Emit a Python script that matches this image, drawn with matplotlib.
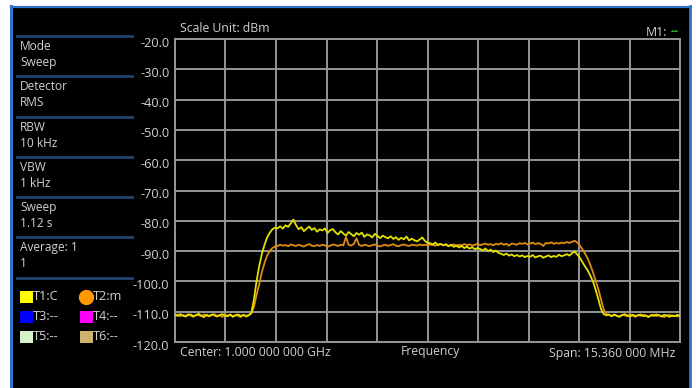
import numpy as np
import matplotlib
matplotlib.use('Agg')
from matplotlib import pyplot as plt
from matplotlib.patches import Rectangle
from matplotlib.lines import Line2D
from matplotlib.transforms import ScaledTranslation

plt.rcParams['font.family'] = ['Open Sans', 'DejaVu Sans']

# sweep settings (MHz offset from centre)
center_ghz = 1.0
span_mhz = 15.36
ref_levels = list(range(-120, -19, 10))
ref_labels = [f'{v:.1f}' for v in ref_levels]

# trace 1 (clear/write, yellow), dBm
t1_trace = [
    -111.0, -111.4, -110.8, -111.3, -111.6, -111.1, -110.9, -111.5, -111.2, -110.7,
    -111.3, -111.8, -111.0, -111.4, -110.9, -111.2, -111.6, -111.1, -110.8, -111.3,
    -111.5, -111.0, -111.7, -111.2, -110.9, -111.4, -111.1, -111.6, -111.2,
    -110.5, -106.0, -100.0, -95.0, -91.0, -88.0, -85.5, -84.0, -82.8, -82.3,
    -82.5, -81.8, -82.6, -81.5, -82.0, -80.9, -79.6, -81.4,
    -82.8, -82.1, -83.4, -82.6, -81.9, -83.0, -82.4, -83.6, -82.8, -83.2, -82.5, -84.0, -83.1, -82.7,
    -83.8, -84.5, -83.4, -84.2, -84.9, -83.7, -84.4, -85.1, -84.0, -84.6,
    -83.9, -85.3, -84.5, -84.8, -85.5, -84.3, -85.0, -85.7, -84.9, -85.4,
    -85.8, -85.1, -86.0, -85.4, -86.3, -85.6, -86.1, -85.2, -86.5, -85.9,
    -86.4, -86.8, -86.2, -85.5, -86.6, -87.3,
    -87.4, -87.8, -87.2, -88.0, -87.6, -88.1, -87.7, -88.4, -87.9, -88.6,
    -88.2, -88.8, -88.3, -89.0, -88.5, -89.2, -88.7, -89.4, -89.0,
    -89.3, -89.8, -89.1, -90.0, -89.5, -90.3, -89.8, -90.6, -90.9, -91.3,
    -90.8, -91.5, -91.1, -91.7, -91.3,
    -91.8, -91.4, -92.0, -91.6, -91.9, -91.3, -92.1, -91.7, -91.5, -92.2,
    -91.8, -91.4, -92.0, -91.6, -91.9, -91.2, -91.7, -91.4, -91.0, -91.5,
    -90.6, -90.2, -91.2, -92.3, -93.8, -95.2, -96.5, -98.3, -100.2, -103.0,
    -106.0, -109.2, -110.8,
    -111.2, -110.9, -111.5, -111.0, -111.4, -111.7, -111.1, -110.8, -111.3, -111.6,
    -111.0, -111.4, -111.2, -110.9, -111.5, -111.3, -111.8, -111.1, -111.4, -110.9,
    -111.2, -111.6, -111.0, -111.3, -111.7, -111.2, -111.5, -111.0, -111.4,
]

# trace 2 (max hold, orange), dBm
t2_trace = [
    -111.2, -110.9, -111.5, -111.1, -111.4, -110.8, -111.3, -111.7, -111.0, -111.2,
    -111.5, -110.9, -111.3, -111.6, -111.1, -110.8, -111.4, -111.2, -111.7, -111.0,
    -111.3, -110.9, -111.5, -111.1, -111.4, -111.8, -111.0, -111.3, -111.1, -110.6,
    -108.5, -104.5, -101.0, -97.0, -94.0, -91.5, -90.0, -89.0, -88.5,
    -88.3, -87.9, -88.2, -88.0, -88.4, -87.8, -88.1, -88.3, -87.9, -88.2,
    -88.5, -88.0, -87.7, -88.2, -88.4, -88.0, -88.3, -87.9, -88.1, -88.6,
    -88.2, -87.8, -88.0, -88.3, -87.9, -88.1,
    -85.4, -87.9, -88.2, -87.6, -85.8, -88.0,
    -88.3, -87.9, -88.1, -88.4, -88.0, -87.8, -88.2, -88.5, -88.1, -87.9,
    -88.3, -88.0, -87.7, -88.2, -88.4, -88.0, -87.8, -88.1, -88.3, -87.9,
    -88.0, -88.2, -87.8, -88.1, -87.9,
    -88.1, -87.8, -88.0, -88.2, -87.9, -87.7, -88.1, -87.9, -88.3, -88.0,
    -87.8, -88.2, -87.9, -88.1, -87.7, -88.0, -87.8, -88.2, -87.9, -87.6,
    -88.0, -87.8, -87.5, -87.9, -87.7, -88.1, -87.6, -87.8, -87.4, -87.9,
    -87.6, -88.2, -87.5, -87.7, -87.9,
    -87.4, -87.6, -87.3, -87.8, -87.5, -87.2, -87.7, -87.4, -87.6, -88.3,
    -87.3, -87.5, -87.1, -87.6, -87.3, -87.5, -87.2, -87.4, -87.0, -87.3,
    -86.9, -86.6, -87.2, -88.3, -89.5, -91.0, -92.6, -94.8, -97.2, -100.0,
    -102.7, -106.0, -109.3, -110.7,
    -111.1, -111.4, -110.9, -111.3, -111.6, -111.0, -111.2, -111.5, -110.8, -111.3,
    -111.7, -111.1, -111.4, -111.0, -111.2, -111.6, -111.3, -110.9, -111.5, -111.1,
    -111.4, -111.8, -111.2, -111.0, -111.5, -111.3, -111.6, -111.2,
]

panel_items = [('Mode', 'Sweep'), ('Detector', 'RMS'), ('RBW', '10 kHz'),
               ('VBW', '1 kHz'), ('Sweep', '1.12 s'), ('Average: 1', '1')]
trace_keys = [('T1:C', '#ffff00', 's'), ('T2:m', '#ff9900', 'o'),
              ('T3:--', '#0000ff', 's'), ('T4:--', '#ff00ff', 's'),
              ('T5:--', '#d4f2cc', 's'), ('T6:--', '#ccb46e', 's')]

W, H = 696, 388
TXT = '#d0d0d0'
GRID = '#969696'
BLUE = '#2f74c8'
FS = 8.8


def px(x, y):
    return x / W, 1 - y / H


fig = plt.figure(figsize=(W / 100, H / 100), dpi=100)
fig.patch.set_facecolor('white')

# screen background and blue frame
fig.add_artist(Rectangle(px(11, 388), 680 / W, 382 / H, transform=fig.transFigure,
                         facecolor='black', edgecolor='none', zorder=0))
fig.add_artist(Line2D([11 / W, 11 / W], [0, 1 - 6 / H], color=BLUE, lw=2.2,
                      transform=fig.transFigure))
fig.add_artist(Line2D([11 / W, 691 / W], [1 - 6.5 / H, 1 - 6.5 / H], color=BLUE, lw=1.6,
                      transform=fig.transFigure))
fig.add_artist(Line2D([690 / W, 690 / W], [0, 1 - 6 / H], color=BLUE, lw=2.0,
                      transform=fig.transFigure))

ax = fig.add_axes([175 / W, 1 - 342 / H, 505 / W, 303 / H])
ax.set_facecolor('black')

half = span_mhz / 2
f1 = np.linspace(-half, half, len(t1_trace))
f2 = np.linspace(-half, half, len(t2_trace))
ax.plot(f2, t2_trace, color='#e08c10', lw=1.3, zorder=3)
ax.plot(f1, t1_trace, color='#e2e200', lw=1.3, zorder=4)

ax.set_xlim(-half, half)
ax.set_ylim(-120, -20)
ax.set_xticks(np.linspace(-half, half, 11))
ax.set_xticklabels([])
ax.set_yticks(ref_levels)
ax.set_yticklabels(ref_labels)
ax.tick_params(axis='both', length=0, colors=TXT)
ax.tick_params(axis='y', pad=4, labelsize=9.2)
for lab in ax.get_yticklabels():
    lab.set_transform(lab.get_transform() + ScaledTranslation(0, -0.025, fig.dpi_scale_trans))
ax.grid(True, color=GRID, lw=1.4)
for s in ax.spines.values():
    s.set_color(GRID)
    s.set_linewidth(1.4)

# header and footer texts
fig.text(*px(180, 29), 'Scale Unit: dBm', color=TXT, fontsize=FS, va='center')
fig.text(*px(667, 32), 'M1:', color=TXT, fontsize=FS, va='center', ha='right')
fig.text(*px(671, 32), '--', color='#22c022', fontsize=FS, va='center', fontweight='bold')
fig.text(*px(180, 353), f'Center: {center_ghz:.9f}'[:13] + ' 000 000 GHz', color=TXT,
         fontsize=FS, va='center')
fig.text(*px(430, 352), 'Frequency', color=TXT, fontsize=FS, va='center', ha='center')
fig.text(*px(675, 353), f'Span: {span_mhz:.3f} 000 MHz', color=TXT, fontsize=FS,
         va='center', ha='right')

# left settings panel
sep_y = [36, 76, 117, 157, 197, 237, 278]
for y in sep_y:
    fig.add_artist(Line2D([17 / W, 132 / W], [1 - y / H] * 2, color='#1e4670', lw=2.0,
                          transform=fig.transFigure))
for i, (name, val) in enumerate(panel_items):
    y0 = sep_y[i]
    fig.text(*px(20, y0 + 10.5), name, color=TXT, fontsize=8.6, va='center')
    fig.text(*px(20, y0 + 26.5), val, color=TXT, fontsize=8.6, va='center')

# trace key grid
for i, (lab, col, mk) in enumerate(trace_keys):
    cx = 26 if i % 2 == 0 else 86
    cy = 297 + 20 * (i // 2)
    if mk == 's':
        fig.add_artist(Rectangle(px(cx - 6.5, cy + 6), 13 / W, 12 / H,
                                 transform=fig.transFigure, facecolor=col, edgecolor='none'))
    else:
        fig.add_artist(Line2D([cx / W], [1 - cy / H], marker='o', markersize=10,
                              color=col, transform=fig.transFigure))
    fig.text(*px(cx + 7, cy), lab, color=TXT, fontsize=9.2, va='center')

fig.savefig('out.png', dpi=100, facecolor=fig.get_facecolor())
